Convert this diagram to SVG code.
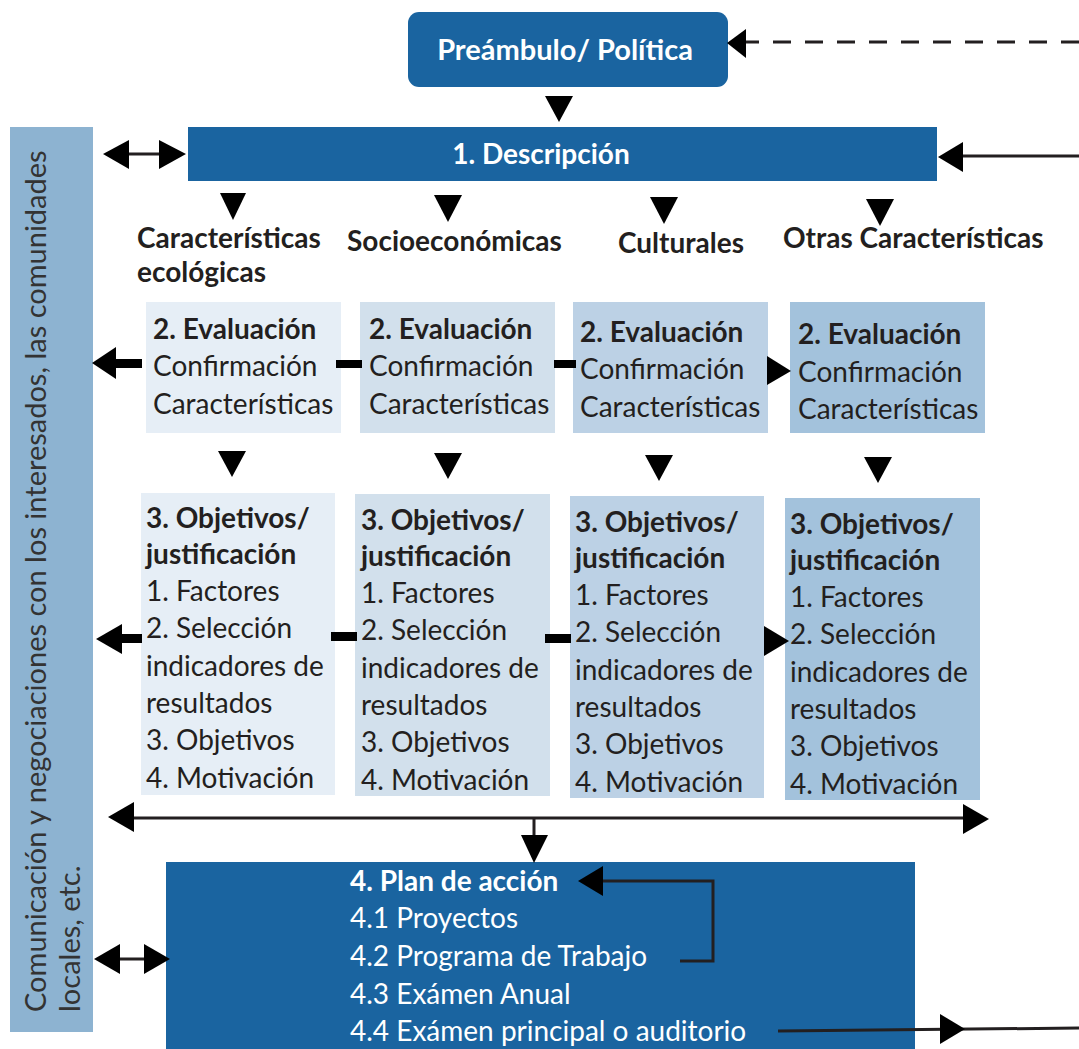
<svg xmlns="http://www.w3.org/2000/svg" width="1079" height="1049" viewBox="0 0 1079 1049">
<style>
text{font-family:Lato,"Liberation Sans",sans-serif;fill:#231f20}
.w{fill:#ffffff}
.b{font-weight:bold}
.t{font-size:28px}
.lbl{font-size:28px;font-weight:bold}
.side{font-size:29px;fill:#333333}
.dark{fill:#1a64a0}
.ln{stroke:#231f20;stroke-width:3;fill:none}
.bar{fill:#000000}
.tri{fill:#000000}
</style>
<rect width="1079" height="1049" fill="#ffffff"/>

<g id="side">
<rect x="10" y="127" width="83" height="905" fill="#8db3d1"/>
<text class="side" transform="translate(46,1012) rotate(-90)">Comunicación y negociaciones con los interesados, las comunidades</text>
<text class="side" transform="translate(80,1012) rotate(-90)">locales, etc.</text>
</g>

<g id="preambulo">
<rect x="408" y="12" width="320" height="75" rx="11" class="dark"/>
<text class="w b" x="565" y="60" font-size="29" text-anchor="middle">Preámbulo/ Política</text>
</g>

<g id="descripcion">
<rect x="188" y="127" width="749" height="54" class="dark"/>
<text class="w b" x="541" y="164" font-size="28" text-anchor="middle">1. Descripción</text>
</g>

<g id="labels">
<text class="lbl" x="137" y="248">Características</text>
<text class="lbl" x="137" y="282">ecológicas</text>
<text class="lbl" x="347" y="251">Socioeconómicas</text>
<text class="lbl" x="618" y="253">Culturales</text>
<text class="lbl" x="783" y="248">Otras Características</text>
</g>

<g id="eval1">
<rect x="146" y="302" width="195" height="131" fill="#e6eef6"/>
<text class="t" x="153" y="339"><tspan class="b">2. Evaluación</tspan><tspan x="153" dy="37">Confirmación</tspan><tspan x="153" dy="38">Características</tspan></text>
</g>
<g id="eval2">
<rect x="360" y="302" width="195" height="131" fill="#d2e0ec"/>
<text class="t" x="369" y="339"><tspan class="b">2. Evaluación</tspan><tspan x="369" dy="37">Confirmación</tspan><tspan x="369" dy="38">Características</tspan></text>
</g>
<g id="eval3">
<rect x="573" y="302" width="195" height="131" fill="#bcd1e5"/>
<text class="t" x="580" y="342"><tspan class="b">2. Evaluación</tspan><tspan x="580" dy="37">Confirmación</tspan><tspan x="580" dy="38">Características</tspan></text>
</g>
<g id="eval4">
<rect x="790" y="302" width="195" height="131" fill="#a3c2dc"/>
<text class="t" x="798" y="344"><tspan class="b">2. Evaluación</tspan><tspan x="798" dy="38">Confirmación</tspan><tspan x="798" dy="37">Características</tspan></text>
</g>

<g id="obj1">
<rect x="141" y="493" width="194" height="302" fill="#e6eef6"/>
<text class="t" x="146" y="528"><tspan class="b">3. Objetivos/</tspan><tspan class="b" x="146" dy="36">justificación</tspan><tspan x="146" dy="37">1. Factores</tspan><tspan x="146" dy="37">2. Selección</tspan><tspan x="146" dy="38">indicadores de</tspan><tspan x="146" dy="37">resultados</tspan><tspan x="146" dy="37">3. Objetivos</tspan><tspan x="146" dy="38">4. Motivación</tspan></text>
</g>
<g id="obj2">
<rect x="355" y="494" width="195" height="302" fill="#d2e0ec"/>
<text class="t" x="361" y="530"><tspan class="b">3. Objetivos/</tspan><tspan class="b" x="361" dy="36">justificación</tspan><tspan x="361" dy="37">1. Factores</tspan><tspan x="361" dy="37">2. Selección</tspan><tspan x="361" dy="38">indicadores de</tspan><tspan x="361" dy="37">resultados</tspan><tspan x="361" dy="37">3. Objetivos</tspan><tspan x="361" dy="38">4. Motivación</tspan></text>
</g>
<g id="obj3">
<rect x="570" y="496" width="194" height="302" fill="#bcd1e5"/>
<text class="t" x="575" y="532"><tspan class="b">3. Objetivos/</tspan><tspan class="b" x="575" dy="36">justificación</tspan><tspan x="575" dy="37">1. Factores</tspan><tspan x="575" dy="37">2. Selección</tspan><tspan x="575" dy="38">indicadores de</tspan><tspan x="575" dy="37">resultados</tspan><tspan x="575" dy="37">3. Objetivos</tspan><tspan x="575" dy="38">4. Motivación</tspan></text>
</g>
<g id="obj4">
<rect x="785" y="498" width="195" height="302" fill="#a3c2dc"/>
<text class="t" x="790" y="534"><tspan class="b">3. Objetivos/</tspan><tspan class="b" x="790" dy="36">justificación</tspan><tspan x="790" dy="37">1. Factores</tspan><tspan x="790" dy="37">2. Selección</tspan><tspan x="790" dy="38">indicadores de</tspan><tspan x="790" dy="37">resultados</tspan><tspan x="790" dy="37">3. Objetivos</tspan><tspan x="790" dy="38">4. Motivación</tspan></text>
</g>

<g id="plan">
<rect x="166" y="862" width="749" height="187" class="dark"/>
<text class="w t" x="350" y="891"><tspan class="b">4. Plan de acción</tspan><tspan x="350" dy="37">4.1 Proyectos</tspan><tspan x="350" dy="38">4.2 Programa de Trabajo</tspan><tspan x="350" dy="38">4.3 Exámen Anual</tspan><tspan x="350" dy="37">4.4 Exámen principal o auditorio</tspan></text>
</g>

<g id="connectors">
<line x1="1079" y1="42" x2="746" y2="42" class="ln" stroke-dasharray="18,14"/>
<polygon class="tri" points="727,43 746,29 746,58"/>
<polygon class="tri" points="545,96 573,96 559,122"/>
<line x1="1079" y1="156" x2="960" y2="156" class="ln"/>
<polygon class="tri" points="938,157 963,142 963,172"/>
<line x1="125" y1="154" x2="162" y2="154" class="ln"/>
<polygon class="tri" points="103,154 129,140 129,169"/>
<polygon class="tri" points="186,154 159,140 159,169"/>
<polygon class="tri" points="220,193 246,193 233,220"/>
<polygon class="tri" points="434,195 462,195 448,222"/>
<polygon class="tri" points="650,197 678,197 664,224"/>
<polygon class="tri" points="866,199 894,199 880,226"/>
<polygon class="tri" points="92,363 116,347 116,379"/>
<rect class="bar" x="114" y="359" width="28" height="9"/>
<rect class="bar" x="336" y="360" width="26" height="8"/>
<rect class="bar" x="554" y="360" width="22" height="8"/>
<polygon class="tri" points="767,356 767,385 791,371"/>
<polygon class="tri" points="218,451 246,451 232,477"/>
<polygon class="tri" points="434,453 462,453 448,479"/>
<polygon class="tri" points="645,455 673,455 659,481"/>
<polygon class="tri" points="864,457 892,457 878,483"/>
<polygon class="tri" points="96,639 122,624 122,654"/>
<rect class="bar" x="120" y="634" width="22" height="9"/>
<rect class="bar" x="331" y="632" width="26" height="9"/>
<rect class="bar" x="545" y="634" width="26" height="9"/>
<polygon class="tri" points="764,626 764,656 789,641"/>
<line x1="130" y1="818" x2="966" y2="818" class="ln"/>
<polygon class="tri" points="108,817 134,802 134,832"/>
<polygon class="tri" points="989,819 963,804 963,834"/>
<line x1="534" y1="818" x2="534" y2="840" class="ln"/>
<polygon class="tri" points="521,835 548,835 534,863"/>
<line x1="115" y1="959" x2="150" y2="959" class="ln"/>
<polygon class="tri" points="94,959 120,944 120,974"/>
<polygon class="tri" points="170,959 144,944 144,974"/>
<polyline class="ln" points="680,961 713,961 713,881 600,881"/>
<polygon class="tri" points="578,881 603,866 603,896"/>
<line x1="778" y1="1031" x2="1079" y2="1028" class="ln"/>
<polygon class="tri" points="965,1029 940,1014 940,1044"/>
</g>
</svg>
